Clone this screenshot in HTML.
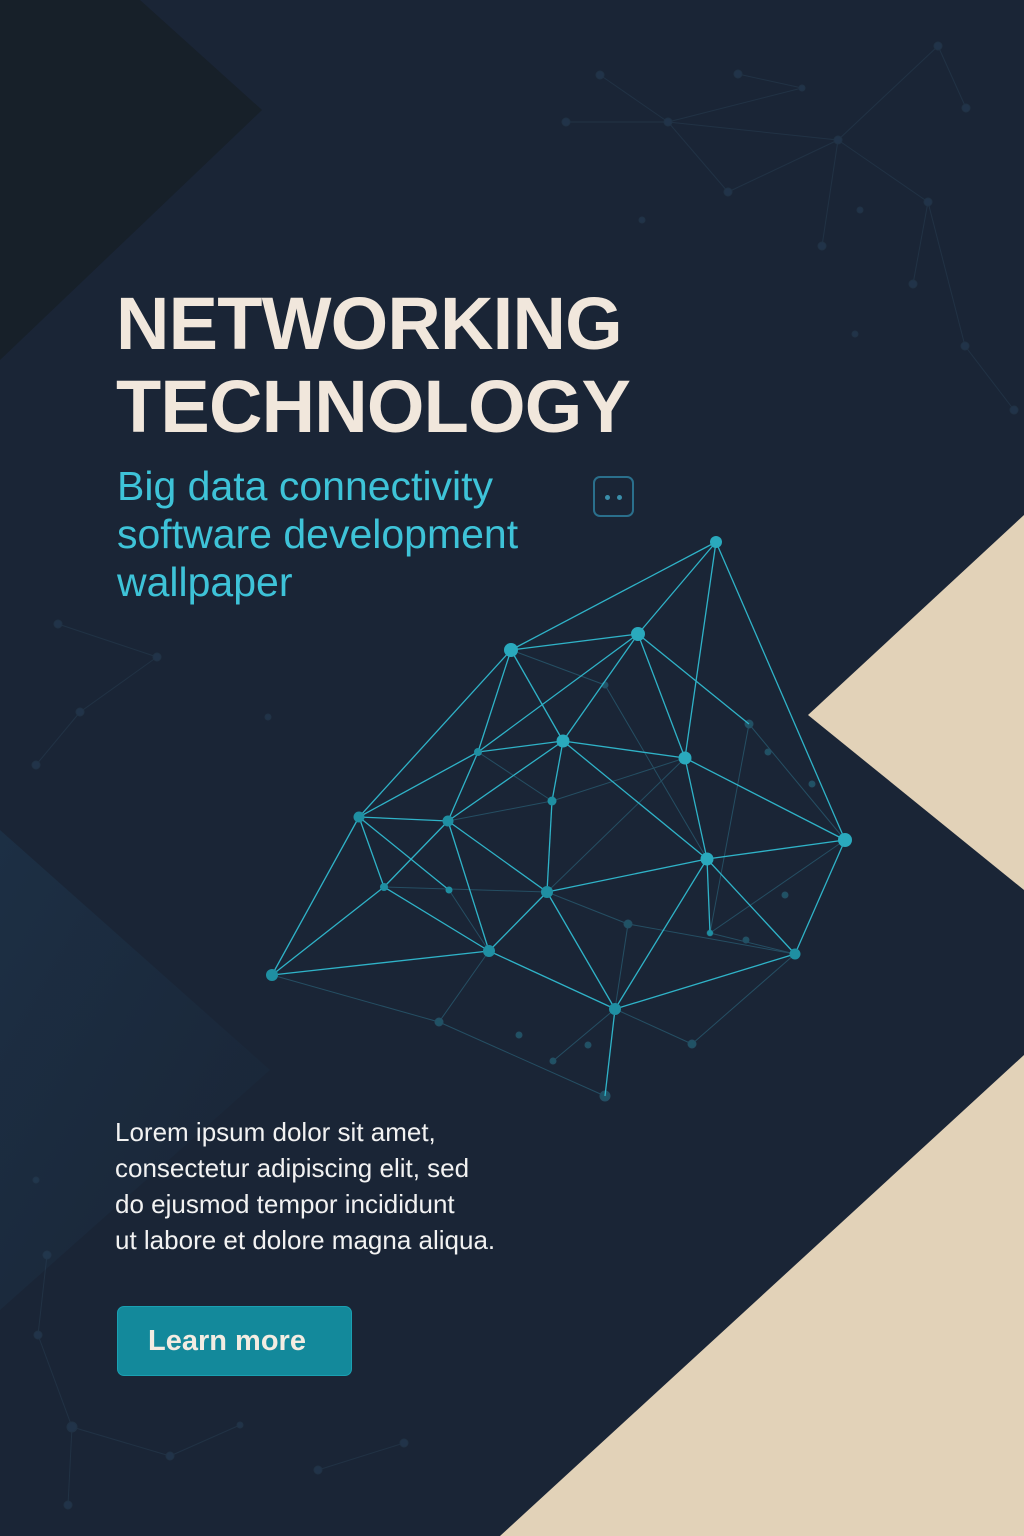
<!DOCTYPE html>
<html><head><meta charset="utf-8"><style>
html,body{margin:0;padding:0}
body{width:1024px;height:1536px;overflow:hidden;background:#1a2536;position:relative;font-family:"Liberation Sans",sans-serif}
svg{position:absolute;left:0;top:0}
.t{position:absolute;left:116px;top:282px;color:#f1e7dc;font-weight:bold;font-size:74px;line-height:83px;letter-spacing:-0.8px}
.s{position:absolute;left:117px;top:462px;color:#3ec3d8;font-size:41px;line-height:48px}
.p{position:absolute;left:115px;top:1114px;color:#f2f2f2;font-size:26px;line-height:36px}
.b{position:absolute;left:117px;top:1306px;width:235px;height:70px;background:#13899b;border-radius:7px;color:#f3ece2;font-weight:bold;font-size:29px;line-height:68px;text-indent:30px;box-sizing:border-box;border:1px solid #1aa0b2}
.i{position:absolute;left:593px;top:476px;width:41px;height:41px;border:2px solid #2a6f8c;border-radius:7px;box-sizing:border-box}
.i:before,.i:after{content:"";position:absolute;top:17px;width:5px;height:5px;border-radius:50%;background:#3a8eaa}
.i:before{left:10px}.i:after{left:22px}
</style></head><body>
<svg width="1024" height="1536" viewBox="0 0 1024 1536">
<defs><linearGradient id="g1" x1="0" y1="0" x2="1" y2="1"><stop offset="0" stop-color="#1c2f44"/><stop offset="1" stop-color="#1a2536"/></linearGradient></defs>
<polygon points="0,0 140,0 262,110 0,360" fill="#172029"/>
<polygon points="0,830 270,1070 0,1310" fill="url(#g1)"/>
<polygon points="1024,515 808,715 1024,890" fill="#e2d2b8"/>
<polygon points="1024,1055 500,1536 1024,1536" fill="#e2d2b8"/>
<g stroke="#2a4257" stroke-width="1" fill="#2a4660" opacity="0.45">
<line x1="600" y1="75" x2="668" y2="122"/><line x1="668" y1="122" x2="838" y2="140"/><line x1="738" y1="74" x2="802" y2="88"/><line x1="668" y1="122" x2="802" y2="88"/><line x1="838" y1="140" x2="938" y2="46"/><line x1="838" y1="140" x2="928" y2="202"/><line x1="838" y1="140" x2="822" y2="246"/><line x1="938" y1="46" x2="966" y2="108"/><line x1="928" y1="202" x2="965" y2="346"/><line x1="728" y1="192" x2="838" y2="140"/><line x1="668" y1="122" x2="728" y2="192"/><line x1="928" y1="202" x2="913" y2="284"/><line x1="965" y1="346" x2="1014" y2="410"/><line x1="566" y1="122" x2="668" y2="122"/>
<circle cx="600" cy="75" r="4"/><circle cx="668" cy="122" r="4"/><circle cx="738" cy="74" r="4"/><circle cx="802" cy="88" r="3"/><circle cx="838" cy="140" r="4"/><circle cx="938" cy="46" r="4"/><circle cx="966" cy="108" r="4"/><circle cx="928" cy="202" r="4"/><circle cx="822" cy="246" r="4"/><circle cx="728" cy="192" r="4"/><circle cx="913" cy="284" r="4"/><circle cx="965" cy="346" r="4"/><circle cx="566" cy="122" r="4"/><circle cx="1014" cy="410" r="4"/><circle cx="642" cy="220" r="3"/><circle cx="860" cy="210" r="3"/><circle cx="855" cy="334" r="3"/>
<line x1="58" y1="624" x2="157" y2="657"/><line x1="80" y1="712" x2="157" y2="657"/><line x1="36" y1="765" x2="80" y2="712"/>
<circle cx="58" cy="624" r="4"/><circle cx="157" cy="657" r="4"/><circle cx="80" cy="712" r="4"/><circle cx="36" cy="765" r="4"/><circle cx="268" cy="717" r="3"/>
<line x1="47" y1="1255" x2="38" y2="1335"/><line x1="38" y1="1335" x2="72" y2="1427"/><line x1="72" y1="1427" x2="170" y2="1456"/><line x1="72" y1="1427" x2="68" y2="1505"/><line x1="170" y1="1456" x2="240" y2="1425"/><line x1="318" y1="1470" x2="404" y2="1443"/>
<circle cx="47" cy="1255" r="4"/><circle cx="38" cy="1335" r="4"/><circle cx="72" cy="1427" r="5"/><circle cx="170" cy="1456" r="4"/><circle cx="68" cy="1505" r="4"/><circle cx="240" cy="1425" r="3"/><circle cx="318" cy="1470" r="4"/><circle cx="404" cy="1443" r="4"/><circle cx="36" cy="1180" r="3"/>
</g>
<g stroke="#27566b" stroke-width="1" fill="#225a6e" opacity="0.85">
<line x1="272" y1="975" x2="439" y2="1022"/><line x1="439" y1="1022" x2="489" y2="951"/><line x1="439" y1="1022" x2="605" y2="1096"/><line x1="692" y1="1044" x2="795" y2="954"/><line x1="628" y1="924" x2="615" y2="1009"/><line x1="547" y1="892" x2="628" y2="924"/><line x1="628" y1="924" x2="795" y2="954"/><line x1="710" y1="933" x2="795" y2="954"/><line x1="710" y1="933" x2="845" y2="840"/><line x1="511" y1="650" x2="605" y2="685"/><line x1="605" y1="685" x2="707" y2="859"/><line x1="749" y1="724" x2="845" y2="840"/><line x1="749" y1="724" x2="710" y2="933"/><line x1="478" y1="752" x2="552" y2="801"/><line x1="448" y1="821" x2="552" y2="801"/><line x1="552" y1="801" x2="685" y2="758"/><line x1="384" y1="887" x2="547" y2="892"/><line x1="449" y1="890" x2="489" y2="951"/><line x1="547" y1="892" x2="685" y2="758"/><line x1="615" y1="1009" x2="692" y2="1044"/><line x1="553" y1="1061" x2="615" y2="1009"/>
<circle cx="439" cy="1022" r="4"/><circle cx="692" cy="1044" r="4"/><circle cx="628" cy="924" r="4"/><circle cx="605" cy="685" r="3"/><circle cx="749" cy="724" r="4"/><circle cx="710" cy="933" r="3"/><circle cx="553" cy="1061" r="3"/><circle cx="605" cy="1096" r="5"/><circle cx="519" cy="1035" r="3"/><circle cx="588" cy="1045" r="3"/><circle cx="768" cy="752" r="3"/><circle cx="785" cy="895" r="3"/><circle cx="746" cy="940" r="3"/><circle cx="812" cy="784" r="3"/>
</g>
<g stroke="#2fb3c8" stroke-width="1.3" fill="none">
<line x1="716" y1="542" x2="511" y2="650"/><line x1="716" y1="542" x2="638" y2="634"/><line x1="716" y1="542" x2="685" y2="758"/><line x1="716" y1="542" x2="845" y2="840"/>
<line x1="511" y1="650" x2="638" y2="634"/><line x1="511" y1="650" x2="359" y2="817"/><line x1="511" y1="650" x2="478" y2="752"/><line x1="511" y1="650" x2="563" y2="741"/>
<line x1="638" y1="634" x2="478" y2="752"/><line x1="638" y1="634" x2="563" y2="741"/><line x1="638" y1="634" x2="685" y2="758"/><line x1="638" y1="634" x2="749" y2="724"/>
<line x1="563" y1="741" x2="478" y2="752"/><line x1="563" y1="741" x2="685" y2="758"/><line x1="563" y1="741" x2="448" y2="821"/><line x1="563" y1="741" x2="552" y2="801"/><line x1="563" y1="741" x2="707" y2="859"/>
<line x1="478" y1="752" x2="359" y2="817"/><line x1="478" y1="752" x2="448" y2="821"/>
<line x1="359" y1="817" x2="448" y2="821"/><line x1="359" y1="817" x2="384" y2="887"/><line x1="359" y1="817" x2="449" y2="890"/><line x1="359" y1="817" x2="272" y2="975"/>
<line x1="448" y1="821" x2="384" y2="887"/><line x1="448" y1="821" x2="547" y2="892"/><line x1="448" y1="821" x2="489" y2="951"/>
<line x1="552" y1="801" x2="547" y2="892"/><line x1="685" y1="758" x2="707" y2="859"/><line x1="685" y1="758" x2="845" y2="840"/>
<line x1="707" y1="859" x2="547" y2="892"/><line x1="707" y1="859" x2="845" y2="840"/><line x1="707" y1="859" x2="615" y2="1009"/><line x1="707" y1="859" x2="795" y2="954"/><line x1="707" y1="859" x2="710" y2="933"/>
<line x1="845" y1="840" x2="795" y2="954"/>
<line x1="384" y1="887" x2="272" y2="975"/><line x1="384" y1="887" x2="489" y2="951"/><line x1="272" y1="975" x2="489" y2="951"/>
<line x1="547" y1="892" x2="489" y2="951"/><line x1="547" y1="892" x2="615" y2="1009"/><line x1="489" y1="951" x2="615" y2="1009"/>
<line x1="615" y1="1009" x2="795" y2="954"/><line x1="615" y1="1009" x2="605" y2="1096"/>
</g>
<g fill="#2aa9bd">
<circle cx="716" cy="542" r="6"/><circle cx="638" cy="634" r="7"/><circle cx="511" cy="650" r="7"/><circle cx="563" cy="741" r="6.5"/><circle cx="685" cy="758" r="6.5"/><circle cx="845" cy="840" r="7"/><circle cx="707" cy="859" r="6.5"/>
</g>
<g fill="#1f8fa2">
<circle cx="478" cy="752" r="4"/><circle cx="359" cy="817" r="5.5"/><circle cx="448" cy="821" r="5.5"/><circle cx="552" cy="801" r="4.5"/><circle cx="384" cy="887" r="4"/><circle cx="449" cy="890" r="3.5"/><circle cx="547" cy="892" r="6"/><circle cx="272" cy="975" r="6"/><circle cx="489" cy="951" r="6"/><circle cx="795" cy="954" r="5.5"/><circle cx="615" cy="1009" r="6"/><circle cx="710" cy="933" r="3"/>
</g>
</svg>
<div class="t">NETWORKING<br>TECHNOLOGY</div>
<div class="s">Big data connectivity<br>software development<br>wallpaper</div>
<div class="i"></div>
<div class="p">Lorem ipsum dolor sit amet,<br>consectetur adipiscing elit, sed<br>do ejusmod tempor incididunt<br>ut labore et dolore magna aliqua.</div>
<div class="b">Learn more</div>
</body></html>
